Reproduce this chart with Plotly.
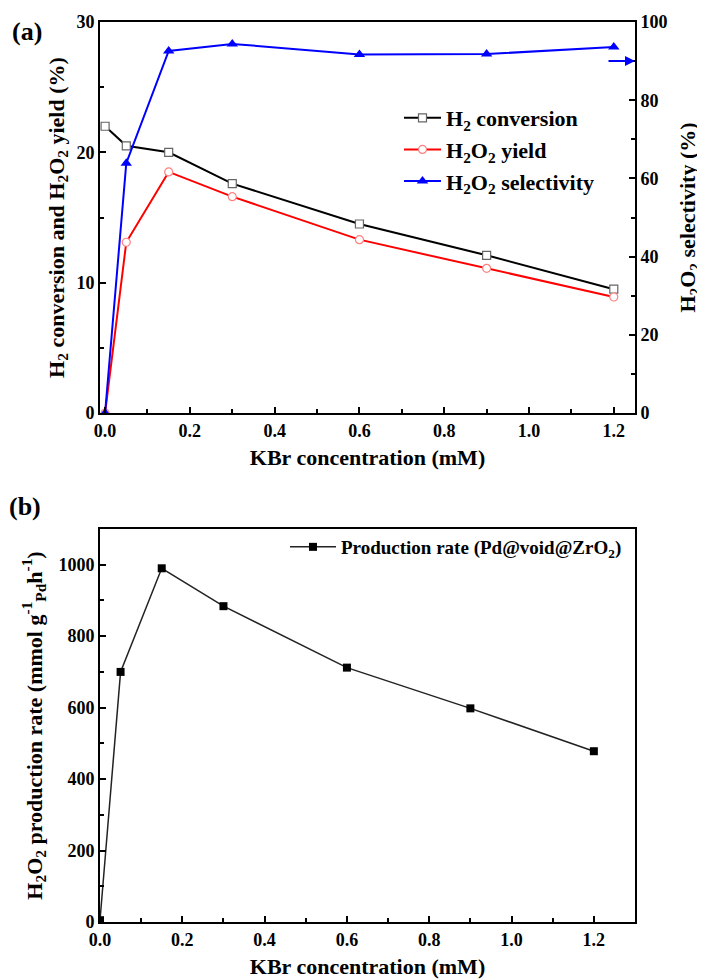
import plotly.graph_objects as go

# ---- data ----
kbr = [0.0, 0.05, 0.15, 0.3, 0.6, 0.9, 1.2]
h2_conversion = [22.0, 20.5, 20.0, 17.6, 14.5, 12.1, 9.5]
h2o2_yield = [0.0, 13.1, 18.5, 16.6, 13.3, 11.1, 8.9]
h2o2_selectivity = [0.0, 63.9, 92.6, 94.4, 91.7, 91.8, 93.6]
production_rate = [5, 700, 990, 884, 712, 598, 478]

x_ticks_a = [0.0, 0.2, 0.4, 0.6, 0.8, 1.0, 1.2]
x_tick_labels = ["0.0", "0.2", "0.4", "0.6", "0.8", "1.0", "1.2"]

FONT = "Liberation Serif"
OFF = 8  # page body margin
W, H = 705 - OFF, 979 - OFF

def px_x(p):
    return (p - OFF) / W

def px_y(p):
    return 1 - (p - OFF) / H

fig = go.Figure()

fig.add_trace(go.Scatter(
    x=kbr, y=h2_conversion, mode="lines+markers",
    name="H<sub>2</sub> conversion",
    line=dict(color="black", width=2),
    marker=dict(symbol="square", size=8, color="white", line=dict(color="#666666", width=1.2)),
    xaxis="x", yaxis="y", legend="legend", legendgroup="a1"))
fig.add_trace(go.Scatter(
    x=kbr, y=h2o2_yield, mode="lines+markers",
    name="H<sub>2</sub>O<sub>2</sub> yield",
    line=dict(color="#ff0000", width=2),
    marker=dict(symbol="circle", size=8, color="white", line=dict(color="#ff8080", width=1.2)),
    xaxis="x", yaxis="y", legend="legend", legendgroup="a2"))
fig.add_trace(go.Scatter(
    x=kbr, y=h2o2_selectivity, mode="lines+markers",
    name="H<sub>2</sub>O<sub>2</sub> selectivity",
    line=dict(color="#0000ff", width=2),
    marker=dict(symbol="triangle-up", size=10, color="#0000ff"),
    xaxis="x", yaxis="y2", legend="legend", legendgroup="a3"))

fig.add_trace(go.Scatter(
    x=kbr, y=production_rate, mode="lines+markers",
    name="Production rate (Pd@void@ZrO<sub>2</sub>)",
    line=dict(color="#222222", width=1.5),
    marker=dict(symbol="square", size=8, color="black"),
    xaxis="x2", yaxis="y3", legend="legend2"))

dom_x = [px_x(100), px_x(635)]
dom_a = [px_y(413), px_y(22)]
dom_b = [px_y(922), px_y(529)]

tickfont = dict(family=FONT, size=18, color="black", weight="bold")
titlefont = dict(family=FONT, size=22, color="black", weight="bold")

def axis_common(**kw):
    d = dict(showline=True, linewidth=2, linecolor="black", ticks="inside",
             ticklen=6, tickwidth=2, tickcolor="black", showgrid=False,
             zeroline=False, tickfont=tickfont, automargin=False)
    d.update(kw)
    return d

fig.update_layout(
    template="none",
    width=W, height=H, autosize=False,
    margin=dict(l=0, r=0, t=0, b=0, pad=0),
    paper_bgcolor="white", plot_bgcolor="white",
    font=dict(family=FONT, color="black", weight="bold"),
    xaxis=axis_common(domain=dom_x, range=[-0.012, 1.25], anchor="y", mirror=True,
                      tickvals=x_ticks_a, ticktext=x_tick_labels,
                      minor=dict(ticks="inside", dtick=0.1, tick0=0, ticklen=4, tickwidth=2, tickcolor="black"),
                      title=dict(text="KBr concentration (mM)", font=titlefont, standoff=10)),
    yaxis=axis_common(domain=dom_a, range=[0, 30], anchor="x", dtick=10,
                      minor=dict(ticks="inside", dtick=5, ticklen=4, tickwidth=2, tickcolor="black"),
                      title=dict(text="H<sub>2</sub> conversion and H<sub>2</sub>O<sub>2</sub> yield (%)",
                                 font=titlefont, standoff=6)),
    yaxis2=axis_common(range=[0, 100], overlaying="y", side="right", anchor="x", dtick=20,
                       minor=dict(ticks="inside", dtick=10, ticklen=4, tickwidth=2, tickcolor="black"),
                       title=dict(text="H<sub>2</sub>O<sub>2</sub> selectivity (%)",
                                  font=titlefont, standoff=13)),
    xaxis2=axis_common(domain=dom_x, range=[0, 1.3], anchor="y3", mirror=True,
                       tickvals=x_ticks_a, ticktext=x_tick_labels,
                       minor=dict(ticks="inside", dtick=0.1, tick0=0, ticklen=4, tickwidth=2, tickcolor="black"),
                       title=dict(text="KBr concentration (mM)", font=titlefont, standoff=10)),
    yaxis3=axis_common(domain=dom_b, range=[0, 1100], anchor="x2", dtick=200, mirror=True,
                       minor=dict(ticks="inside", dtick=100, ticklen=4, tickwidth=2, tickcolor="black"),
                       title=dict(text="H<sub>2</sub>O<sub>2</sub> production rate (mmol g<sup>-1</sup><sub>Pd</sub>h<sup>-1</sup>)",
                                  font=titlefont, standoff=10)),
    legend=dict(x=px_x(399), y=px_y(97), xanchor="left", yanchor="top",
                bgcolor="rgba(0,0,0,0)", font=dict(family=FONT, size=22, color="black", weight="bold"),
                tracegroupgap=0, traceorder="grouped", itemwidth=37),
    legend2=dict(x=px_x(285), y=px_y(528), xanchor="left", yanchor="top",
                 bgcolor="rgba(0,0,0,0)", font=dict(family=FONT, size=19, color="black", weight="bold"),
                 itemwidth=46),
    annotations=[
        dict(text="(a)", x=px_x(27), y=px_y(31), xref="paper", yref="paper", showarrow=False,
             xanchor="center", yanchor="middle",
             font=dict(family=FONT, size=26, color="black", weight="bold")),
        dict(text="(b)", x=px_x(25), y=px_y(506), xref="paper", yref="paper", showarrow=False,
             xanchor="center", yanchor="middle",
             font=dict(family=FONT, size=26, color="black", weight="bold")),
        dict(text="", x=1.25, y=90, xref="x", yref="y2", ax=-28, ay=0,
             showarrow=True, arrowhead=2, arrowsize=1, arrowwidth=2, arrowcolor="#0000ff"),
    ],
)

fig.write_html("out.html")
